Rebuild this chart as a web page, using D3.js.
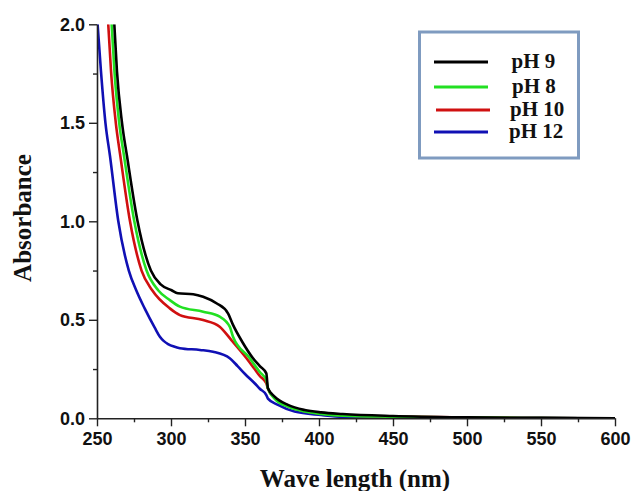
<!DOCTYPE html>
<html>
<head>
<meta charset="utf-8">
<script src="https://cdn.jsdelivr.net/npm/d3@7"></script>
<style>
  body { margin: 0; background: #fff; }
  svg { display: block; }
</style>
</head>
<body>
<svg id="chart" width="632" height="491"></svg>
<script>
// ---------------- data ----------------
const seriesNames = ["pH 9", "pH 8", "pH 10", "pH 12"];
const seriesColors = ["#000000", "#22e022", "#d01010", "#1010b4"];

const pH9 = [
  [261.7, 2.0], [263.5, 1.76], [266.9, 1.5], [270.3, 1.33], [277.4, 1.0],
  [286.4, 0.75], [293, 0.68], [300.4, 0.65], [304.6, 0.635], [315, 0.63],
  [321.7, 0.617], [330.7, 0.584], [338.5, 0.533], [341.9, 0.474], [348, 0.39],
  [355.4, 0.305], [360, 0.265], [364.4, 0.228], [365.5, 0.152], [370, 0.11],
  [379, 0.068], [390.3, 0.042], [401.5, 0.03], [416, 0.022], [450, 0.012],
  [500, 0.005], [550, 0.002], [600, 0.0]
];
const pH8 = [
  [259.9, 2.0], [261.8, 1.76], [265.0, 1.5], [268.3, 1.33], [275.2, 1.0],
  [283.5, 0.75], [291.3, 0.65], [299.2, 0.6], [306, 0.567], [321.7, 0.541],
  [332.9, 0.516], [339.7, 0.465], [341.9, 0.414], [353.2, 0.305], [356.5, 0.27],
  [360, 0.235], [364.4, 0.194], [365.5, 0.152], [370, 0.10], [379, 0.059],
  [390.3, 0.034], [401.5, 0.022], [416, 0.013], [450, 0.008], [500, 0.004],
  [550, 0.001], [600, 0.0]
];
const pH10 = [
  [257.6, 2.0], [259.5, 1.76], [262.7, 1.5], [265.8, 1.33], [272.3, 1.0],
  [280.1, 0.75], [287.3, 0.65], [299.2, 0.558], [306, 0.524], [321.7, 0.499],
  [332.9, 0.465], [340.8, 0.397], [351, 0.305], [356.5, 0.25], [360, 0.215],
  [364.4, 0.178], [365.5, 0.15], [370, 0.105], [379, 0.062], [390.3, 0.036],
  [401.5, 0.024], [416, 0.014], [450, 0.009], [500, 0.004], [550, 0.001],
  [600, 0.0]
];
const pH12 = [
  [250.4, 2.0], [252.7, 1.76], [255.7, 1.5], [258.8, 1.33], [264.4, 1.0],
  [271.5, 0.75], [276.5, 0.65], [282.2, 0.558], [289, 0.46], [292.5, 0.414],
  [295, 0.393], [298, 0.377], [302, 0.364], [306, 0.356], [319.5, 0.347],
  [328.4, 0.338], [339.7, 0.305], [345, 0.265], [350, 0.225], [356.5, 0.178],
  [360, 0.15], [364.4, 0.118], [365.5, 0.10], [372.3, 0.068], [383.5, 0.034],
  [401.5, 0.017], [416, 0.008], [450, 0.005], [500, 0.003], [550, 0.001],
  [600, 0.0]
];
const seriesValues = [pH9, pH8, pH10, pH12];

const xMajorTicks = [250, 300, 350, 400, 450, 500, 550, 600];
const xMinorTicks = [275, 325, 375, 425, 475, 525, 575];
const yMajorTicks = [0.0, 0.5, 1.0, 1.5, 2.0];
const yMinorTicks = [0.25, 0.75, 1.25, 1.75];
const xTitle = "Wave length (nm)";
const yTitle = "Absorbance";

// ---------------- layout ----------------
const W = 632, H = 491;
const margin = { left: 97, right: 17, top: 24.3, bottom: 72.7 };
const svg = d3.select("#chart");

const x = d3.scaleLinear().domain([250, 600]).range([margin.left, W - margin.right]);
const y = d3.scaleLinear().domain([0, 2]).range([H - margin.bottom, margin.top]);

svg.append("defs").append("clipPath").attr("id", "plotclip")
  .append("rect")
  .attr("x", margin.left).attr("y", margin.top)
  .attr("width", W - margin.left - margin.right)
  .attr("height", H - margin.top - margin.bottom);

const line = d3.line()
  .x(d => x(d[0]))
  .y(d => y(d[1]))
  .curve(d3.curveMonotoneX);

const plot = svg.append("g").attr("clip-path", "url(#plotclip)");
const drawOrder = [3, 2, 1, 0];
drawOrder.forEach(i => {
  plot.append("path")
    .datum(seriesValues[i])
    .attr("d", line)
    .attr("fill", "none")
    .attr("stroke", seriesColors[i])
    .attr("stroke-width", 2.6)
    .attr("stroke-linejoin", "round");
});

// ---------------- axes ----------------
const axisColor = "#222";
const tickFont = "'Liberation Sans', Arial, sans-serif";

svg.append("g")
  .attr("transform", `translate(0,${H - margin.bottom})`)
  .call(d3.axisBottom(x).tickValues(xMajorTicks).tickFormat(d3.format("d"))
    .tickSizeInner(8).tickSizeOuter(0).tickPadding(6));
svg.append("g")
  .attr("transform", `translate(0,${H - margin.bottom})`)
  .call(d3.axisBottom(x).tickValues(xMinorTicks).tickFormat("")
    .tickSizeInner(4).tickSizeOuter(0))
  .call(g => g.select(".domain").remove());

svg.append("g")
  .attr("transform", `translate(${margin.left},0)`)
  .call(d3.axisLeft(y).tickValues(yMajorTicks).tickFormat(d3.format(".1f"))
    .tickSizeInner(8).tickSizeOuter(0).tickPadding(4));
svg.append("g")
  .attr("transform", `translate(${margin.left},0)`)
  .call(d3.axisLeft(y).tickValues(yMinorTicks).tickFormat("")
    .tickSizeInner(4).tickSizeOuter(0))
  .call(g => g.select(".domain").remove());

svg.selectAll(".domain").attr("stroke", axisColor).attr("stroke-width", 1.6);
svg.selectAll(".tick line").attr("stroke", axisColor).attr("stroke-width", 1.4);
svg.selectAll(".tick text")
  .attr("fill", "#111")
  .style("font-family", tickFont)
  .style("font-weight", "bold")
  .style("font-size", "18px");

// ---------------- titles ----------------
const serif = "'Liberation Serif', 'Times New Roman', serif";
svg.append("text")
  .attr("x", (margin.left + W - margin.right) / 2 - 1)
  .attr("y", 487)
  .attr("text-anchor", "middle")
  .style("font-family", serif)
  .style("font-weight", "bold")
  .style("font-size", "25px")
  .attr("fill", "#111")
  .text(xTitle);

svg.append("text")
  .attr("transform", `translate(31,218) rotate(-90)`)
  .attr("text-anchor", "middle")
  .style("font-family", serif)
  .style("font-weight", "bold")
  .style("font-size", "25px")
  .attr("fill", "#111")
  .text(yTitle);

// ---------------- legend ----------------
const legend = svg.append("g");
legend.append("rect")
  .attr("x", 419.5).attr("y", 32)
  .attr("width", 159).attr("height", 126)
  .attr("fill", "#fff")
  .attr("stroke", "#7f9bc0")
  .attr("stroke-width", 3);

const legendY = [62, 87, 110, 132];
const legendX0 = [434, 434, 436, 434];
const legendTextX = [511.5, 512, 510, 509];
seriesNames.forEach((name, i) => {
  legend.append("line")
    .attr("x1", legendX0[i]).attr("x2", legendX0[i] + 54)
    .attr("y1", legendY[i]).attr("y2", legendY[i])
    .attr("stroke", seriesColors[i])
    .attr("stroke-width", 3);
  legend.append("text")
    .attr("x", legendTextX[i])
    .attr("y", legendY[i] + 6)
    .style("font-family", serif)
    .style("font-weight", "bold")
    .style("font-size", "21px")
    .attr("fill", "#111")
    .text(name);
});
</script>
</body>
</html>
